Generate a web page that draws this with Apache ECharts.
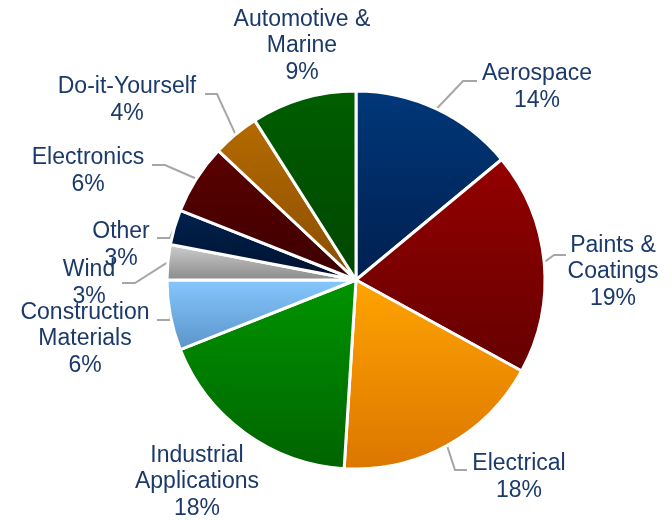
<!DOCTYPE html>
<html>
<head>
<meta charset="utf-8">
<style>
  html, body { margin: 0; padding: 0; background: #ffffff; }
  #chart { width: 672px; height: 520px; }
</style>
<script src="https://cdn.jsdelivr.net/npm/echarts@6/dist/echarts.min.js"></script>
</head>
<body>
<div id="chart"></div>
<script>
// Market share by end-use segment (percent), clockwise from 12 o'clock
const categories = [
  'Aerospace',
  'Paints &\nCoatings',
  'Electrical',
  'Industrial\nApplications',
  'Construction\nMaterials',
  'Wind',
  'Other',
  'Electronics',
  'Do-it-Yourself',
  'Automotive &\nMarine'
];
const shares = [14, 19, 18, 18, 6, 3, 3, 6, 4, 9];

// Slice fill: vertical gradient, lighter top -> darker bottom
const sliceColors = [
  ['#00387A', '#001F4F'],
  ['#950000', '#660000'],
  ['#FFA400', '#DC7600'],
  ['#009400', '#006300'],
  ['#86C8FF', '#5A93C8'],
  ['#D0D0D0', '#888888'],
  ['#00224F', '#00112E'],
  ['#5C0000', '#3C0000'],
  ['#B46A00', '#8A4E00'],
  ['#005E00', '#004600']
];

// Label block centres and leader-line elbow/end points (null = no leader)
const labelPlacement = [
  { x: 537, y: 87,  line: [[463, 81], [477, 81]] },
  { x: 613, y: 272, line: [[554, 255], [566, 255]] },
  { x: 519, y: 477, line: [[455, 470], [467, 470]] },
  { x: 197, y: 482, line: null },
  { x: 85,  y: 339, line: [[170, 320], [157, 320]] },
  { x: 89,  y: 283, line: [[135, 283], [122, 283]] },
  { x: 121, y: 245, line: [[170, 238], [157, 238]] },
  { x: 88,  y: 171, line: [[165, 165], [152, 165]] },
  { x: 127, y: 100, line: [[217, 94], [205, 94]] },
  { x: 302, y: 46,  line: null }
];

const chart = echarts.init(document.getElementById('chart'), null, { renderer: 'canvas' });

const seriesData = categories.map((name, i) => ({
  name: name,
  value: shares[i],
  itemStyle: {
    color: new echarts.graphic.LinearGradient(0, 0, 0, 1, [
      { offset: 0, color: sliceColors[i][0] },
      { offset: 1, color: sliceColors[i][1] }
    ])
  },
  labelLine: { show: !!labelPlacement[i].line }
}));

chart.setOption({
  backgroundColor: '#ffffff',
  animation: false,
  series: [{
    type: 'pie',
    center: [356, 280],
    radius: 189,
    startAngle: 90,
    clockwise: true,
    avoidLabelOverlap: false,
    itemStyle: { borderColor: '#ffffff', borderWidth: 3 },
    label: {
      show: true,
      position: 'outside',
      color: '#1B3A6B',
      fontFamily: '"Liberation Sans", Arial, sans-serif',
      fontSize: 23,
      lineHeight: 26.5,
      formatter: p => p.name + '\n' + p.value + '%'
    },
    labelLine: {
      show: true,
      length: 10,
      length2: 10,
      smooth: false,
      lineStyle: { color: '#A6A6A6', width: 2 }
    },
    labelLayout: function (params) {
      const pl = labelPlacement[params.dataIndex];
      const out = { x: pl.x, y: pl.y, align: 'center', verticalAlign: 'middle' };
      if (pl.line && params.labelLinePoints) {
        out.labelLinePoints = [params.labelLinePoints[0], pl.line[0], pl.line[1]];
      }
      return out;
    },
    data: seriesData
  }]
});
</script>
</body>
</html>
